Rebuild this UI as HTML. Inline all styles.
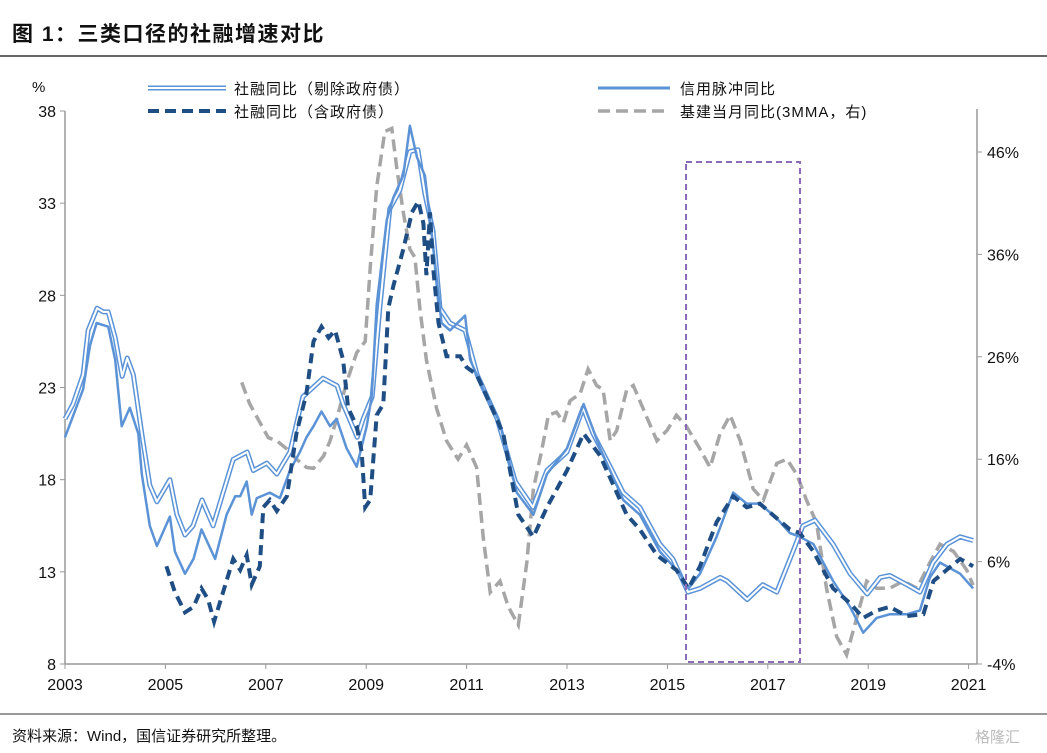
<!DOCTYPE html>
<html><head><meta charset="utf-8"><style>
body{margin:0;background:#fff;}
#wrap{position:relative;width:1047px;height:753px;overflow:hidden;font-family:"Liberation Sans","Noto Sans CJK SC",sans-serif;}
</style></head><body>
<div id="wrap">
<svg id="svg" width="1047" height="753" xmlns="http://www.w3.org/2000/svg">
<text x="12" y="41" font-size="21" font-weight="bold" fill="#111" letter-spacing="1.5" font-family="Liberation Sans,Noto Sans CJK SC,sans-serif">图 1：三类口径的社融增速对比</text>
<line x1="0" y1="56" x2="1047" y2="56" stroke="#333" stroke-width="1.5"/>
<line x1="0" y1="714" x2="1047" y2="714" stroke="#333" stroke-width="1"/>
<text x="12" y="741" font-size="15" fill="#111" font-family="Liberation Sans,Noto Sans CJK SC,sans-serif">资料来源：Wind，国信证券研究所整理。</text>
<text x="975" y="742" font-size="15" fill="#bbb" font-family="Liberation Sans,Noto Sans CJK SC,sans-serif">格隆汇</text>
<text x="32" y="92" font-size="15" fill="#111">%</text>
<g id="axes"></g>
<g id="series"></g>
<rect x="686" y="162" width="114" height="500" fill="none" stroke="#8e6bb8" stroke-width="2" stroke-dasharray="6,4"/>
<g font-family="Liberation Sans,Noto Sans CJK SC,sans-serif" font-size="15" fill="#111" letter-spacing="1">
 <g>
  <line x1="148" y1="88" x2="226" y2="88" stroke="#5b93d6" stroke-width="5"/>
  <line x1="148" y1="88" x2="226" y2="88" stroke="#fff" stroke-width="2"/>
  <text x="234" y="94">社融同比（剔除政府债）</text></g>
 <g>
  <line x1="598" y1="88" x2="670" y2="88" stroke="#5b93d6" stroke-width="3"/>
  <text x="680" y="94">信用脉冲同比</text></g>
 <g>
  <line x1="148" y1="111" x2="226" y2="111" stroke="#1f4e85" stroke-width="4" stroke-dasharray="11,6"/>
  <text x="234" y="117">社融同比（含政府债）</text></g>
 <g>
  <line x1="598" y1="111" x2="670" y2="111" stroke="#a6a6a6" stroke-width="3.5" stroke-dasharray="12,6"/>
  <text x="680" y="117">基建当月同比(3MMA，右)</text></g>
</g>
</svg>
</div>
<script>
const leftTicks=[8,13,18,23,28,33,38];
const rightTicks=[-4,6,16,26,36,46];
const rightTickLabels=["-4%","6%","16%","26%","36%","46%"];
const yearTicks=[2003,2005,2007,2009,2011,2013,2015,2017,2019,2021];

const aYears=[2003.00,2003.16,2003.36,2003.46,2003.64,2003.76,2003.86,2004.00,2004.14,2004.24,2004.36,2004.53,2004.69,2004.83,2005.09,2005.23,2005.39,2005.55,2005.73,2005.95,2006.15,2006.35,2006.63,2006.75,2007.02,2007.22,2007.48,2007.74,2008.14,2008.42,2008.54,2008.82,2008.94,2009.12,2009.27,2009.47,2009.67,2009.87,2010.03,2010.17,2010.33,2010.47,2010.67,2010.97,2011.21,2011.61,2011.97,2012.32,2012.60,2013.00,2013.32,2013.52,2013.86,2014.12,2014.45,2014.85,2015.11,2015.41,2015.65,2016.05,2016.19,2016.59,2016.90,2017.18,2017.50,2017.70,2017.94,2018.30,2018.64,2018.98,2019.24,2019.43,2019.77,2020.03,2020.29,2020.57,2020.83,2021.09];
const aValues=[21.3,22.1,23.7,26.1,27.3,27.1,27.1,25.7,23.6,24.6,23.7,20.5,17.7,16.8,18.0,16.1,15.0,15.5,16.9,15.5,17.3,19.1,19.5,18.5,18.9,18.3,19.5,22.5,23.5,23.1,22.1,20.3,21.3,22.5,27.3,32.7,33.7,35.8,35.9,33.5,31.5,27.3,26.5,26.1,23.7,21.3,17.9,16.5,18.5,19.5,21.9,20.5,18.7,17.3,16.5,14.5,13.7,11.9,12.1,12.7,12.5,11.5,12.3,11.9,14.1,15.5,15.8,14.5,12.9,11.8,12.7,12.8,12.3,11.9,13.5,14.5,14.9,14.7];

const bYears=[2003.00,2003.36,2003.50,2003.63,2003.86,2004.00,2004.13,2004.29,2004.46,2004.53,2004.69,2004.83,2005.09,2005.19,2005.39,2005.56,2005.72,2005.99,2006.22,2006.39,2006.49,2006.62,2006.72,2006.82,2007.08,2007.28,2007.48,2007.68,2007.81,2007.95,2008.11,2008.28,2008.41,2008.61,2008.81,2009.01,2009.11,2009.21,2009.41,2009.54,2009.74,2009.87,2010.01,2010.17,2010.34,2010.50,2010.67,2010.97,2011.07,2011.33,2011.66,2012.00,2012.33,2012.60,2013.00,2013.33,2013.66,2014.12,2014.45,2014.85,2015.25,2015.42,2015.65,2015.98,2016.31,2016.58,2016.84,2017.18,2017.44,2017.64,2017.91,2018.30,2018.64,2018.90,2019.17,2019.43,2019.77,2020.03,2020.23,2020.43,2020.83,2021.09];
const bValues=[20.3,22.9,25.3,26.5,26.3,24.5,20.9,21.9,20.5,18.3,15.5,14.4,16.0,14.1,12.9,13.7,15.3,13.7,16.1,17.1,17.1,17.9,16.1,17.0,17.3,17.0,18.5,19.5,20.3,20.9,21.7,20.9,21.3,19.7,18.7,20.9,22.5,27.5,32.1,33.3,34.5,37.2,35.5,34.5,30.5,26.5,26.1,26.9,24.5,22.9,21.1,17.3,16.1,18.3,19.7,22.1,19.7,16.9,16.1,14.1,12.9,12.1,12.9,14.9,17.3,16.7,16.7,15.9,15.1,14.9,14.5,12.5,11.1,9.7,10.5,10.7,10.7,10.9,12.7,13.5,12.9,12.1];

const cYears=[2005.02,2005.19,2005.39,2005.56,2005.72,2005.85,2005.97,2006.15,2006.35,2006.49,2006.62,2006.72,2006.88,2006.95,2007.08,2007.22,2007.42,2007.61,2007.81,2007.95,2008.11,2008.25,2008.38,2008.54,2008.64,2008.81,2008.91,2008.98,2009.08,2009.21,2009.34,2009.44,2009.54,2009.74,2009.91,2010.04,2010.14,2010.20,2010.27,2010.34,2010.44,2010.60,2010.87,2011.00,2011.20,2011.47,2011.73,2012.03,2012.33,2012.60,2013.00,2013.33,2013.66,2014.19,2014.45,2014.79,2015.18,2015.42,2015.65,2015.98,2016.31,2016.58,2016.84,2017.18,2017.44,2017.64,2017.91,2018.30,2018.64,2018.90,2019.17,2019.43,2019.77,2020.10,2020.30,2020.56,2020.83,2021.09];
const cValues=[13.3,11.9,10.8,11.1,12.1,11.5,10.3,11.9,13.7,13.1,13.9,12.3,13.3,16.5,16.9,16.3,17.1,20.5,22.7,25.5,26.3,25.7,26.1,24.5,21.9,20.9,19.5,16.5,16.9,21.5,22.1,27.3,28.5,30.5,32.5,33.1,31.9,29.1,32.5,29.3,26.5,24.7,24.7,24.1,23.7,22.1,20.5,16.1,14.9,16.5,18.5,20.5,19.3,16.1,15.3,13.9,13.1,12.1,13.3,15.7,17.1,16.5,16.7,15.9,15.3,15.1,14.1,12.1,11.3,10.5,10.9,11.1,10.6,10.7,12.5,13.1,13.7,13.3];

const dYears=[2006.52,2006.68,2006.88,2007.05,2007.22,2007.42,2007.61,2007.81,2007.95,2008.15,2008.28,2008.41,2008.61,2008.81,2008.98,2009.08,2009.21,2009.37,2009.51,2009.61,2009.74,2009.87,2009.97,2010.07,2010.20,2010.40,2010.60,2010.83,2011.00,2011.20,2011.33,2011.47,2011.665,2011.83,2012.03,2012.20,2012.33,2012.49,2012.63,2012.79,2012.93,2013.06,2013.26,2013.42,2013.59,2013.72,2013.86,2013.99,2014.19,2014.32,2014.52,2014.79,2014.99,2015.18,2015.38,2015.65,2015.85,2016.05,2016.25,2016.45,2016.71,2016.91,2017.18,2017.38,2017.58,2017.77,2017.97,2018.17,2018.37,2018.57,2018.77,2018.97,2019.17,2019.43,2019.70,2019.97,2020.23,2020.43,2020.70,2020.96,2021.09];
const dValues=[23.5,21.4,19.6,18.1,17.8,17.0,16.0,15.2,15.1,16.3,17.8,19.9,23.5,26.4,27.5,34.7,42.6,48.0,48.3,44.4,40.1,36.5,35.7,30.7,25.7,21.0,17.8,16.0,17.4,15.2,8.4,3.0,4.1,1.6,-0.2,5.9,13.1,16.7,20.3,20.6,19.6,21.7,22.4,24.8,23.2,22.8,17.8,18.8,22.8,23.2,20.9,17.8,18.8,20.3,19.2,17.0,15.2,18.5,20.3,17.8,13.1,12.0,15.6,16.0,14.5,12.0,9.8,3.4,-1.3,-3.1,0.5,4.1,3.4,3.4,4.1,3.4,5.9,7.7,7.0,5.2,3.7];

const NS='http://www.w3.org/2000/svg';
const X0=65,X1=977,YB=664,YT=111;
function xs(y){return 65+(y-2003)*50.2;}
function yl(v){return YB-(v-8)/30*(YB-YT);}
function yr(v){return YB-(v+4)/50*(YB-152);}
function mk(tag,attrs,parent){const e=document.createElementNS(NS,tag);for(const k in attrs)e.setAttribute(k,attrs[k]);parent.appendChild(e);return e;}
const axes=document.getElementById('axes');
const ser=document.getElementById('series');
let e;
e=mk('line',{x1:X0,y1:YT,x2:X0,y2:YB,stroke:'#999','stroke-width':1.5},axes);


e=mk('line',{x1:X1,y1:YT-2,x2:X1,y2:YB,stroke:'#999','stroke-width':1.5},axes);


e=mk('line',{x1:X0,y1:YB,x2:X1,y2:YB,stroke:'#999','stroke-width':1.5},axes);


leftTicks.forEach(v=>{const y=yl(v);
 e=mk('line',{x1:X0-5,y1:y,x2:X0,y2:y,stroke:'#999','stroke-width':1},axes);
 
 
 e=mk('text',{x:X0-9,y:y+6,'text-anchor':'end','font-size':16,fill:'#111'},axes);e.textContent=v;
 
 });
rightTicks.forEach((v,i)=>{const y=yr(v);
 e=mk('line',{x1:X1,y1:y,x2:X1+5,y2:y,stroke:'#999','stroke-width':1},axes);
 
 
 e=mk('text',{x:X1+10,y:y+6,'font-size':16,fill:'#111'},axes);e.textContent=rightTickLabels[i];
 
 });
yearTicks.forEach(v=>{const x=xs(v);
 e=mk('line',{x1:x,y1:YB,x2:x,y2:YB+5,stroke:'#999','stroke-width':1},axes);
 
 
 e=mk('text',{x:x,y:YB+26,'text-anchor':'middle','font-size':16,fill:'#111'},axes);e.textContent=v;
 
 });
function pts(ys,vs,f){return ys.map((y,i)=>xs(y).toFixed(1)+','+f(vs[i]).toFixed(1)).join(' ');}
e=mk('polyline',{points:pts(dYears,dValues,yr),fill:'none',stroke:'#a6a6a6','stroke-width':3.5,'stroke-dasharray':'12,6'},ser);


e=mk('polyline',{points:pts(aYears,aValues,yl),fill:'none',stroke:'#5b93d6','stroke-width':5,'stroke-linejoin':'round'},ser);


e=mk('polyline',{points:pts(aYears,aValues,yl),fill:'none',stroke:'#fff','stroke-width':2,'stroke-linejoin':'round'},ser);


e=mk('polyline',{points:pts(bYears,bValues,yl),fill:'none',stroke:'#5b93d6','stroke-width':2.5,'stroke-linejoin':'round'},ser);


e=mk('polyline',{points:pts(cYears,cValues,yl),fill:'none',stroke:'#1f4e85','stroke-width':4,'stroke-dasharray':'10,6'},ser);


</script>
</body></html>
